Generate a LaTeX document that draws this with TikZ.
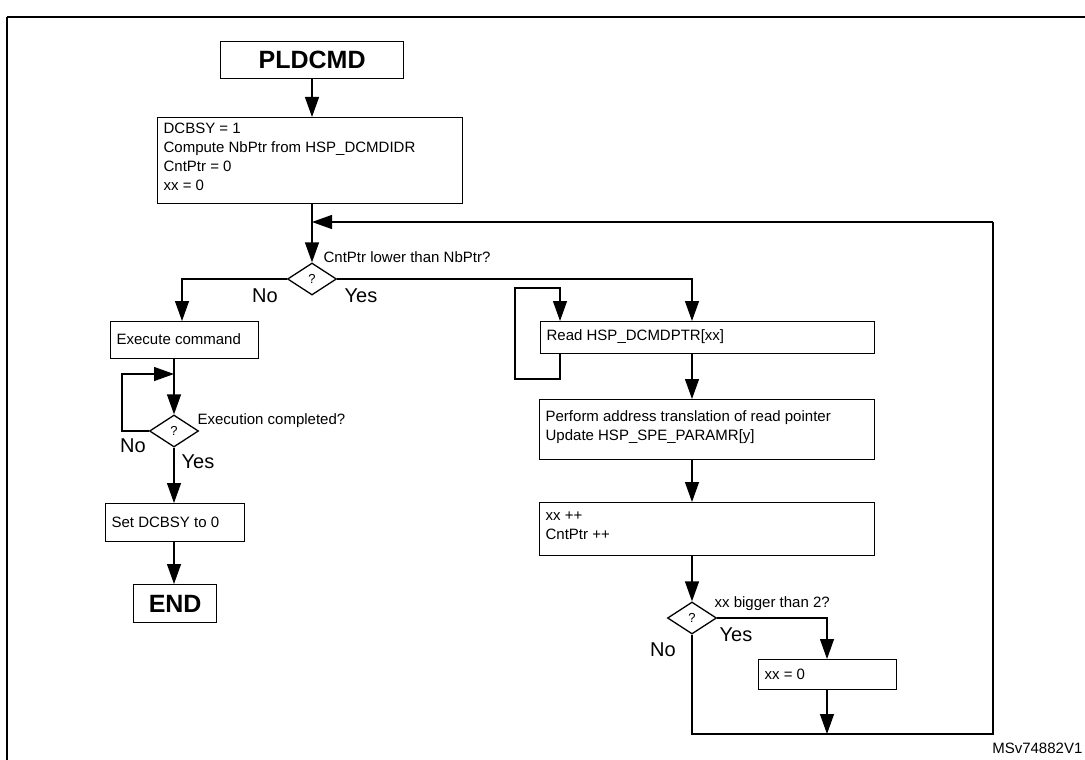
\documentclass[tikz,border=0pt]{standalone}
\usepackage{fontspec}
\setmainfont{Liberation Sans}
\usetikzlibrary{arrows.meta,shapes.geometric}
\begin{document}
\begin{tikzpicture}[x=1pt,y=-1pt,
  line width=1.3pt,
  arr/.style={-{Triangle[length=20pt,width=14pt]}},
  box/.style={draw,rectangle,inner sep=0pt,anchor=north west},
  txt/.style={font=\fontsize{15}{19}\selectfont,align=left,inner sep=0pt},
  big/.style={font=\fontsize{25}{28}\selectfont\bfseries},
  lbl/.style={font=\fontsize{20}{22}\selectfont,inner sep=0pt},
  dia/.style={draw,diamond,aspect=1.5,minimum width=49pt,minimum height=32pt,inner sep=0pt,font=\fontsize{13}{13}\selectfont}]
\useasboundingbox (0,0) rectangle (1085,760);
\draw (7,17) -- (1100,17);
\draw (7,17) -- (7,770);
% nodes
\node[box,minimum width=183pt,minimum height=37pt] (pld) at (220,41) {};
\node[big] at (pld.center) {PLDCMD};
\node[box,minimum width=305pt,minimum height=86pt] (b1) at (157,117) {};
\node[txt,anchor=north west] at (163,122) {DCBSY = 1\\Compute NbPtr from HSP\_DCMDIDR\\CntPtr = 0\\xx = 0};
\node[dia] (d1) at (312,279) {?};
\node[txt,anchor=west] at (323,257) {CntPtr lower than NbPtr?};
\node[lbl] at (265,296) {No};
\node[lbl] at (361,296) {Yes};
\node[box,minimum width=148pt,minimum height=37pt] (ex) at (110,321) {};
\node[txt,anchor=west] at (116,339.5) {Execute command};
\node[dia] (d2) at (174,431) {?};
\node[txt,anchor=west] at (197,421) {Execution completed?};
\node[lbl] at (133,446) {No};
\node[lbl] at (198,462) {Yes};
\node[box,minimum width=139pt,minimum height=38pt] (set) at (105,503) {};
\node[txt,anchor=west] at (111,522) {Set DCBSY to 0};
\node[box,minimum width=83pt,minimum height=38pt] (end) at (133,584) {};
\node[big] at (end.center) {END};
\node[box,minimum width=334pt,minimum height=32pt] (rd) at (540,321) {};
\node[txt,anchor=west] at (546,337) {Read HSP\_DCMDPTR[xx]};
\node[box,minimum width=335pt,minimum height=60pt] (pa) at (539,399) {};
\node[txt,anchor=north west] at (545,410) {Perform address translation of read pointer\\Update HSP\_SPE\_PARAMR[y]};
\node[box,minimum width=335pt,minimum height=53pt] (inc) at (539,502) {};
\node[txt,anchor=north west] at (545,511) {xx ++\\CntPtr ++};
\node[dia] (d3) at (692,618) {?};
\node[txt,anchor=west] at (714,604) {xx bigger than 2?};
\node[lbl] at (736,635) {Yes};
\node[lbl] at (663,650) {No};
\node[box,minimum width=138pt,minimum height=30pt] (x0) at (758,659) {};
\node[txt,anchor=west] at (764,674) {xx = 0};
\node[font=\fontsize{15}{15}\selectfont,anchor=east,inner sep=0pt] at (1083,748) {MSv74882V1};
\coordinate (j1) at (312,222);
\coordinate (j2) at (174,374);
\coordinate (j3) at (692,734);
% connectors
\draw[arr] (pld.south -| 312,0) -- (b1.north -| 312,0);
\draw[arr] (b1.south -| 312,0) -- (d1.north);
\draw[arr] (d1.west) -| (ex.north -| 182,0);
\draw[arr] (d1.east) -| (rd.north -| 692,0);
\draw[arr] (rd.south -| 560,0) |- (515,379) |- (560,288) -- (rd.north -| 560,0);
\draw[arr] (rd.south -| 692,0) -- (pa.north -| 692,0);
\draw[arr] (pa.south -| 692,0) -- (inc.north -| 692,0);
\draw[arr] (inc.south -| 692,0) -- (d3.north);
\draw[arr] (d3.east) -| (x0.north -| 827,0);
\draw[arr] (x0.south -| 827,0) -- (827,734);
\draw (d3.south) -- (j3) -- (993,734) -- (993,222);
\draw[arr] (993,222) -- (j1);
\draw[arr] (ex.south -| 174,0) -- (d2.north);
\draw[arr] (d2.west) -| (122,374) -- (j2);
\draw[arr] (d2.south) -- (set.north -| 174,0);
\draw[arr] (set.south -| 174,0) -- (end.north -| 174,0);
\end{tikzpicture}
\end{document}
